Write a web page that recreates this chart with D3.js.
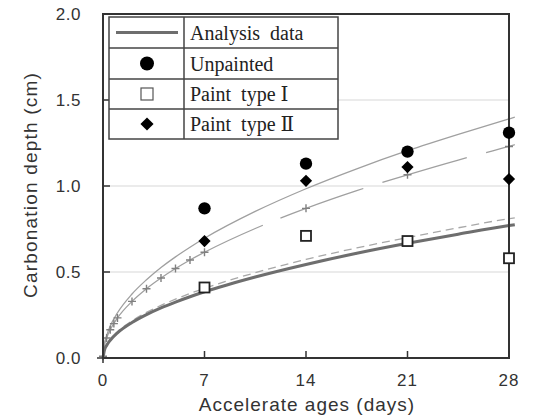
<!DOCTYPE html>
<html>
<head>
<meta charset="utf-8">
<script src="https://cdn.jsdelivr.net/npm/d3@7"></script>
<style>
  body { margin: 0; background: #fff; }
  text { font-family: "Liberation Sans", Arial, sans-serif; }
</style>
</head>
<body>
<div id="chart"></div>
<script>
// measured points
var testDays = [7, 14, 21, 28];
var unpainted = [0.87, 1.13, 1.20, 1.31];
var paintI = [0.41, 0.71, 0.68, 0.58];
var paintII = [0.68, 1.03, 1.11, 1.04];

// analysis curves
var curveDays = [0, 0.1, 0.25, 0.5, 1, 2, 3, 4, 5, 6, 7, 10.5, 14, 17.5, 21, 24.5, 28, 28.4];
var upperThin = [0, 0.083, 0.13, 0.186, 0.263, 0.372, 0.455, 0.526, 0.588, 0.644, 0.696, 0.852, 0.984, 1.10, 1.205, 1.30, 1.39, 1.40];
var longDash = [0, 0.074, 0.116, 0.164, 0.233, 0.329, 0.403, 0.465, 0.52, 0.57, 0.615, 0.753, 0.87, 0.973, 1.065, 1.151, 1.23, 1.24];
var analysis = [0, 0.046, 0.073, 0.103, 0.146, 0.206, 0.252, 0.291, 0.325, 0.356, 0.385, 0.471, 0.544, 0.609, 0.667, 0.72, 0.77, 0.775];
var shortDash = [0, 0.048, 0.077, 0.108, 0.153, 0.216, 0.265, 0.306, 0.342, 0.375, 0.405, 0.496, 0.573, 0.64, 0.70, 0.757, 0.81, 0.815];

var crossDays = [0, 0.25, 0.5, 0.75, 1, 2, 3, 4, 5, 6, 7, 14, 21, 28];
var crossVals = [0.01, 0.116, 0.164, 0.2, 0.233, 0.329, 0.403, 0.465, 0.52, 0.57, 0.615, 0.87, 1.065, 1.23];

var xTicks = [0, 7, 14, 21, 28];
var yTicks = [0, 0.5, 1.0, 1.5, 2.0];
var legendLabels = ["Analysis  data", "Unpainted", "Paint  type Ⅰ", "Paint  type Ⅱ"];

var width = 535, height = 419;
var plotL = 103, plotR = 509, plotT = 14, plotB = 358;

var svg = d3.select("#chart").append("svg")
    .attr("width", width)
    .attr("height", height);

var x = d3.scaleLinear().domain([0, 28]).range([plotL, plotR]);
var y = d3.scaleLinear().domain([0, 2]).range([plotB, plotT]);

// gridlines
svg.append("g").selectAll("line")
    .data(yTicks.slice(1, 4))
    .enter().append("line")
    .attr("x1", plotL).attr("x2", plotR)
    .attr("y1", function(d) { return y(d); })
    .attr("y2", function(d) { return y(d); })
    .attr("stroke", "#d8d8d8")
    .attr("stroke-width", 1.2);

function curve(vals) {
    return d3.line()
        .curve(d3.curveMonotoneX)
        .x(function(d, i) { return x(curveDays[i]); })
        .y(function(d) { return y(d); })(vals);
}

svg.append("path").attr("d", curve(upperThin))
    .attr("fill", "none").attr("stroke", "#a0a0a0").attr("stroke-width", 1.3);

var ld = svg.append("path").attr("d", curve(longDash))
    .attr("fill", "none").attr("stroke", "#a0a0a0").attr("stroke-width", 1.3);
// first gap starts around day 11, long dashes after that
var node = ld.node(), total = node.getTotalLength(), firstLen = 0;
for (var s = 0; s < total; s += 0.5) {
    if (node.getPointAtLength(s).x >= x(11)) { firstLen = s; break; }
}
ld.attr("stroke-dasharray", firstLen + ",19,88,20,88,20,88,20");

svg.append("path").attr("d", curve(shortDash))
    .attr("fill", "none").attr("stroke", "#a8a8a8").attr("stroke-width", 1.3)
    .attr("stroke-dasharray", "8,5");
svg.append("path").attr("d", curve(analysis))
    .attr("fill", "none").attr("stroke", "#6e6e6e").attr("stroke-width", 3);

// crosses on the long dashed curve
svg.append("g").selectAll("path")
    .data(crossVals)
    .enter().append("path")
    .attr("d", "M-4,0H4M0,-4V4")
    .attr("transform", function(d, i) { return "translate(" + x(crossDays[i]) + "," + y(d) + ")"; })
    .attr("stroke", "#808080")
    .attr("stroke-width", 1.4)
    .attr("fill", "none");

// frame
svg.append("rect")
    .attr("x", plotL).attr("y", plotT)
    .attr("width", plotR - plotL).attr("height", plotB - plotT)
    .attr("fill", "none").attr("stroke", "#333").attr("stroke-width", 2);

// axes
var yAxis = svg.append("g");
yAxis.selectAll("line")
    .data(yTicks)
    .enter().append("line")
    .attr("x1", function(d) { return d === 0 ? plotL - 6 : plotL; })
    .attr("x2", function(d) { return d === 0 ? plotL : plotL + 7; })
    .attr("y1", function(d) { return y(d); })
    .attr("y2", function(d) { return y(d); })
    .attr("stroke", "#333").attr("stroke-width", 1.5);
yAxis.selectAll("text")
    .data(yTicks)
    .enter().append("text")
    .attr("x", 81)
    .attr("y", function(d) { return y(d); })
    .attr("dy", "0.35em")
    .attr("text-anchor", "end")
    .attr("fill", "#333")
    .style("font-size", "17px")
    .style("letter-spacing", "0.5px")
    .text(function(d) { return d3.format(".1f")(d); });

var xAxis = svg.append("g");
xAxis.selectAll("line")
    .data(xTicks)
    .enter().append("line")
    .attr("x1", function(d) { return x(d); })
    .attr("x2", function(d) { return x(d); })
    .attr("y1", function(d) { return d === 0 ? plotB + 5 : plotB - 7; })
    .attr("y2", plotB)
    .attr("stroke", "#333").attr("stroke-width", 1.5);
xAxis.selectAll("text")
    .data(xTicks)
    .enter().append("text")
    .attr("x", function(d) { return x(d); })
    .attr("y", 386)
    .attr("text-anchor", "middle")
    .attr("fill", "#333")
    .style("font-size", "17px")
    .style("letter-spacing", "1px")
    .text(function(d) { return d; });

svg.append("text")
    .attr("x", 307).attr("y", 411)
    .attr("text-anchor", "middle")
    .attr("fill", "#333")
    .style("font-size", "19px")
    .style("letter-spacing", "1px")
    .text("Accelerate ages (days)");

svg.append("text")
    .attr("transform", "translate(37,185)rotate(-90)")
    .attr("text-anchor", "middle")
    .attr("fill", "#333")
    .style("font-size", "19px")
    .style("letter-spacing", "1.2px")
    .text("Carbonation depth (cm)");

// measured markers
svg.append("g").selectAll("circle")
    .data(unpainted)
    .enter().append("circle")
    .attr("cx", function(d, i) { return x(testDays[i]); })
    .attr("cy", function(d) { return y(d); })
    .attr("r", 6.2)
    .attr("fill", "#000");

svg.append("g").selectAll("path")
    .data(paintII)
    .enter().append("path")
    .attr("d", d3.symbol().type(d3.symbolDiamond2).size(95))
    .attr("transform", function(d, i) { return "translate(" + x(testDays[i]) + "," + y(d) + ")"; })
    .attr("fill", "#000");

svg.append("g").selectAll("rect")
    .data(paintI)
    .enter().append("rect")
    .attr("x", function(d, i) { return x(testDays[i]) - 5; })
    .attr("y", function(d) { return y(d) - 5; })
    .attr("width", 10).attr("height", 10)
    .attr("fill", "#fff")
    .attr("stroke", "#222").attr("stroke-width", 1.8);

// legend table
var lg = svg.append("g");
var lx0 = 109, lx1 = 184, lx2 = 338;
var rowY = [17, 48, 79, 109, 139];
lg.append("rect")
    .attr("x", lx0).attr("y", rowY[0])
    .attr("width", lx2 - lx0).attr("height", rowY[4] - rowY[0])
    .attr("fill", "#fff").attr("stroke", "#444").attr("stroke-width", 1.5);
lg.append("line")
    .attr("x1", lx1).attr("x2", lx1).attr("y1", rowY[0]).attr("y2", rowY[4])
    .attr("stroke", "#444").attr("stroke-width", 1.5);
lg.selectAll(".sep")
    .data(rowY.slice(1, 4))
    .enter().append("line")
    .attr("x1", lx0).attr("x2", lx2)
    .attr("y1", function(d) { return d; }).attr("y2", function(d) { return d; })
    .attr("stroke", "#444").attr("stroke-width", 1.5);

lg.selectAll(".lab")
    .data(legendLabels)
    .enter().append("text")
    .attr("x", 190)
    .attr("y", function(d, i) { return (rowY[i] + rowY[i + 1]) / 2; })
    .attr("dy", "0.35em")
    .style("font-family", "'Liberation Serif', 'DejaVu Serif', serif")
    .style("font-size", "20px")
    .attr("fill", "#222")
    .style("white-space", "pre")
    .text(function(d) { return d; });

var cy = function(i) { return (rowY[i] + rowY[i + 1]) / 2; };
lg.append("line")
    .attr("x1", 116).attr("x2", 178).attr("y1", cy(0)).attr("y2", cy(0))
    .attr("stroke", "#6e6e6e").attr("stroke-width", 3);
lg.append("circle")
    .attr("cx", 147).attr("cy", cy(1)).attr("r", 7).attr("fill", "#000");
lg.append("rect")
    .attr("x", 141).attr("y", cy(2) - 6).attr("width", 12).attr("height", 12)
    .attr("fill", "#fff").attr("stroke", "#555").attr("stroke-width", 1.2);
lg.append("path")
    .attr("d", d3.symbol().type(d3.symbolDiamond2).size(110))
    .attr("transform", "translate(147," + cy(3) + ")")
    .attr("fill", "#000");
</script>
</body>
</html>
